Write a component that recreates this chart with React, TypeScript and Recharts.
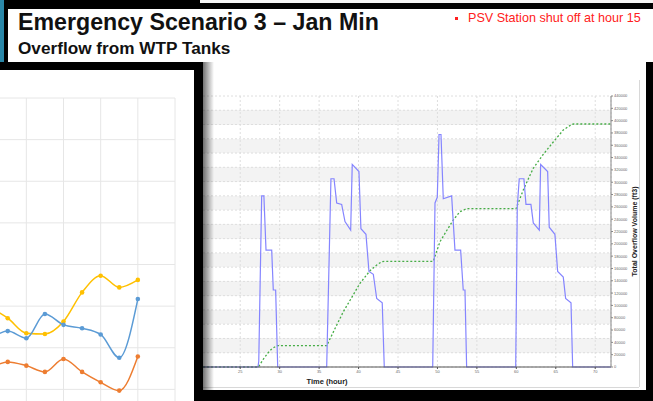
import React from "react";
import { LineChart, Line, XAxis, YAxis, CartesianGrid } from "recharts";

// right chart: overflow rate (hidden left axis) + cumulative volume (right axis)
const hourTicks = [0, 5, 10, 15, 20, 25, 30, 35, 40, 45, 50, 55, 60, 65, 70];
const volumeTicks = [
  0, 20000, 40000, 60000, 80000, 100000, 120000, 140000, 160000, 180000, 200000, 220000,
  240000, 260000, 280000, 300000, 320000, 340000, 360000, 380000, 400000, 420000, 440000,
];
const flowTicks = [
  0, 1000, 2000, 3000, 4000, 5000, 6000, 7000, 8000, 9000, 10000, 11000, 12000, 13000,
  14000, 15000, 16000, 17000, 18000, 19000,
];

const flowHours = [
  0, 27.25, 27.35, 27.72, 28.0, 28.27, 28.99, 29.19, 29.49, 29.75,
  35.96, 36.5, 36.89, 37.23, 37.86, 38.28, 39.0, 39.2, 40.05, 40.3, 40.94, 41.32, 41.87, 42.3, 43.0, 43.26,
  49.4, 49.69, 49.98, 50.2, 50.45, 50.74, 51.8, 52.22, 52.94, 53.27, 53.49, 53.7,
  59.92, 60.12, 60.37, 60.96, 61.22, 61.85, 62.15, 62.91, 63.08, 63.97, 64.17, 64.89, 65.24, 65.95, 66.25, 66.93, 67.14,
  72,
];
const flowValues = [
  0, 0, 400, 12000, 12000, 8200, 8200, 5400, 5400, 0,
  0, 13200, 13200, 11500, 11400, 10200, 9600, 14200, 13700, 9700, 9300, 6700, 6500, 4800, 4500, 0,
  0, 11500, 11900, 16300, 16300, 11800, 12000, 8200, 8200, 5400, 5400, 0,
  0, 11250, 13200, 13200, 11400, 11400, 10100, 9600, 14200, 13700, 9800, 9300, 6700, 6300, 4800, 4500, 0,
  0,
];

const volumeHours = [
  0, 27.3, 28.0, 28.5, 29.0, 29.5, 29.75,
  35.96, 37.0, 38.07, 39.0, 40.18, 41.45, 42.3, 42.93, 43.3,
  49.47, 50.32, 51.2, 52.0, 52.85, 53.7,
  59.96, 60.88, 61.5, 62.15, 63.4, 64.68, 65.95, 67.02, 67.3,
  72,
];
const volumeValues = [
  0, 0, 14000, 22500, 29500, 33500, 34600,
  34600, 62000, 89800, 110000, 135900, 156300, 165500, 171000, 171500,
  171500, 203400, 222000, 238600, 252100, 257000,
  257000, 287300, 305000, 322600, 345000, 365300, 384700, 394000, 394500,
  394500,
];

// left (partly hidden) chart
const leftIndex = [0, 1, 2, 3, 4, 5, 6, 7, 8];
const leftYellow = [29.8, 27.1, 23.5, 23.3, 26.3, 33.3, 37.3, 34.5, 36.3];
const leftBlue = [21.9, 24.0, 22.3, 28.1, 25.5, 24.7, 23.2, 17.6, 31.7];
const leftOrange = [14.9, 16.6, 15.7, 14.2, 17.3, 14.2, 11.7, 9.7, 17.9];
const leftXTicks = [-2, 0, 2, 4, 6, 8, 10];
const leftYTicks = [0, 10, 20, 30, 40, 50, 60, 70, 80];

const flowData = flowHours.map((h, i) => ({ hour: h, flow: flowValues[i] }));
const volumeData = volumeHours.map((h, i) => ({ hour: h, volume: volumeValues[i] }));
const leftData = leftIndex.map((j, i) => ({
  idx: j,
  yellow: leftYellow[i],
  blue: leftBlue[i],
  orange: leftOrange[i],
}));

const font = '"Liberation Sans", Arial, sans-serif';

const box = (left: number, top: number, width: number, height: number, background: string): React.CSSProperties => ({
  position: "absolute",
  left,
  top,
  width,
  height,
  background,
});

export default function App() {
  return (
    <div style={{ position: "absolute", left: 0, top: 0, width: 653, height: 401, background: "#000", overflow: "hidden", fontFamily: font }}>
      <div style={box(200, 0, 453, 3, "#f4f4f4")} />
      <div style={box(0, 0, 4, 62, "#2a87a8")} />
      <div style={box(8, 9, 645, 53, "#fff")} />
      <div style={{ position: "absolute", left: 18, top: 11, fontSize: 23.2, lineHeight: "23px", fontWeight: 700, color: "#111", whiteSpace: "nowrap" }}>
        Emergency Scenario 3 – Jan Min
      </div>
      <div style={{ position: "absolute", left: 18, top: 40, fontSize: 17.2, lineHeight: "17px", fontWeight: 700, color: "#111", whiteSpace: "nowrap" }}>
        Overflow from WTP Tanks
      </div>
      <div style={box(455, 17, 3, 3, "#ff2020")} />
      <div style={{ position: "absolute", left: 468, top: 12, fontSize: 12.6, lineHeight: "13px", color: "#ff2020", whiteSpace: "nowrap" }}>
        PSV Station shut off at hour 15
      </div>

      {/* right panel */}
      <div style={box(203, 62, 443, 328, "#fff")} />
      <div style={box(639, 80, 1, 307, "#d8d8d8")} />
      <div style={box(203, 387, 436, 1, "#d8d8d8")} />
      <div style={{ position: "absolute", left: 0, top: 0 }}>
        <LineChart width={653} height={401} margin={{ top: 96, right: 0, bottom: 10, left: 43 }}>
          <CartesianGrid
            xAxisId="t"
            yAxisId="flow"
            stroke="#dedede"
            strokeDasharray="2 2"
            horizontalFill={["#ffffff", "#f3f3f3"]}
          />
          <XAxis
            xAxisId="t"
            type="number"
            dataKey="hour"
            domain={[0, 72]}
            ticks={hourTicks}
            interval={0}
            allowDataOverflow
            height={24}
            tickSize={2}
            tickMargin={1}
            stroke="#555"
            tick={{ fontSize: 4, fill: "#666", fontFamily: font }}
            label={{ value: "Time (hour)", position: "insideBottom", offset: 7, style: { fontSize: 7.5, fontWeight: 700, fill: "#222", fontFamily: font } }}
          />
          <YAxis yAxisId="flow" hide domain={[0, 19000]} ticks={flowTicks} interval={0} />
          <YAxis
            yAxisId="vol"
            orientation="right"
            domain={[0, 440000]}
            ticks={volumeTicks}
            interval={0}
            width={42}
            tickSize={2}
            tickMargin={1}
            stroke="#888"
            tick={{ fontSize: 4, fill: "#666", fontFamily: font }}
            label={{ value: "Total Overflow Volume (ft3)", angle: -90, position: "center", dx: 3, style: { fontSize: 7, fontWeight: 700, fill: "#222", fontFamily: font } }}
          />
          <Line
            xAxisId="t"
            yAxisId="vol"
            data={volumeData}
            dataKey="volume"
            type="linear"
            stroke="#46ad46"
            strokeWidth={1.3}
            strokeDasharray="2 2"
            dot={false}
            isAnimationActive={false}
          />
          <Line
            xAxisId="t"
            yAxisId="flow"
            data={flowData}
            dataKey="flow"
            type="linear"
            stroke="#8585ff"
            strokeWidth={1.2}
            dot={false}
            isAnimationActive={false}
          />
        </LineChart>
      </div>
      <div style={{ ...box(203, 62, 11, 328, "transparent"), background: "linear-gradient(to right, rgba(0,0,0,0.55), rgba(0,0,0,0))" }} />

      {/* left panel, overlapping */}
      <div style={box(0, 62, 203, 339, "#000")} />
      <div style={{ ...box(0, 70, 194, 331, "#fff"), overflow: "hidden" }}>
        <div style={{ position: "absolute", left: -48, top: 0 }}>
          <LineChart width={242} height={361} margin={{ top: 28, right: 19, bottom: 0, left: 0 }} data={leftData}>
            <CartesianGrid stroke="#e6e6e6" />
            <XAxis type="number" dataKey="idx" domain={[-2, 10]} ticks={leftXTicks} interval={0} hide />
            <YAxis domain={[0, 80]} ticks={leftYTicks} interval={0} hide />
            <Line dataKey="yellow" type="monotone" stroke="#ffc000" strokeWidth={1.5} dot={{ r: 2.3, fill: "#ffc000", stroke: "none" }} isAnimationActive={false} />
            <Line dataKey="blue" type="monotone" stroke="#5b9bd5" strokeWidth={1.5} dot={{ r: 2.3, fill: "#5b9bd5", stroke: "none" }} isAnimationActive={false} />
            <Line dataKey="orange" type="monotone" stroke="#ed7d31" strokeWidth={1.5} dot={{ r: 2.3, fill: "#ed7d31", stroke: "none" }} isAnimationActive={false} />
          </LineChart>
        </div>
      </div>
    </div>
  );
}
